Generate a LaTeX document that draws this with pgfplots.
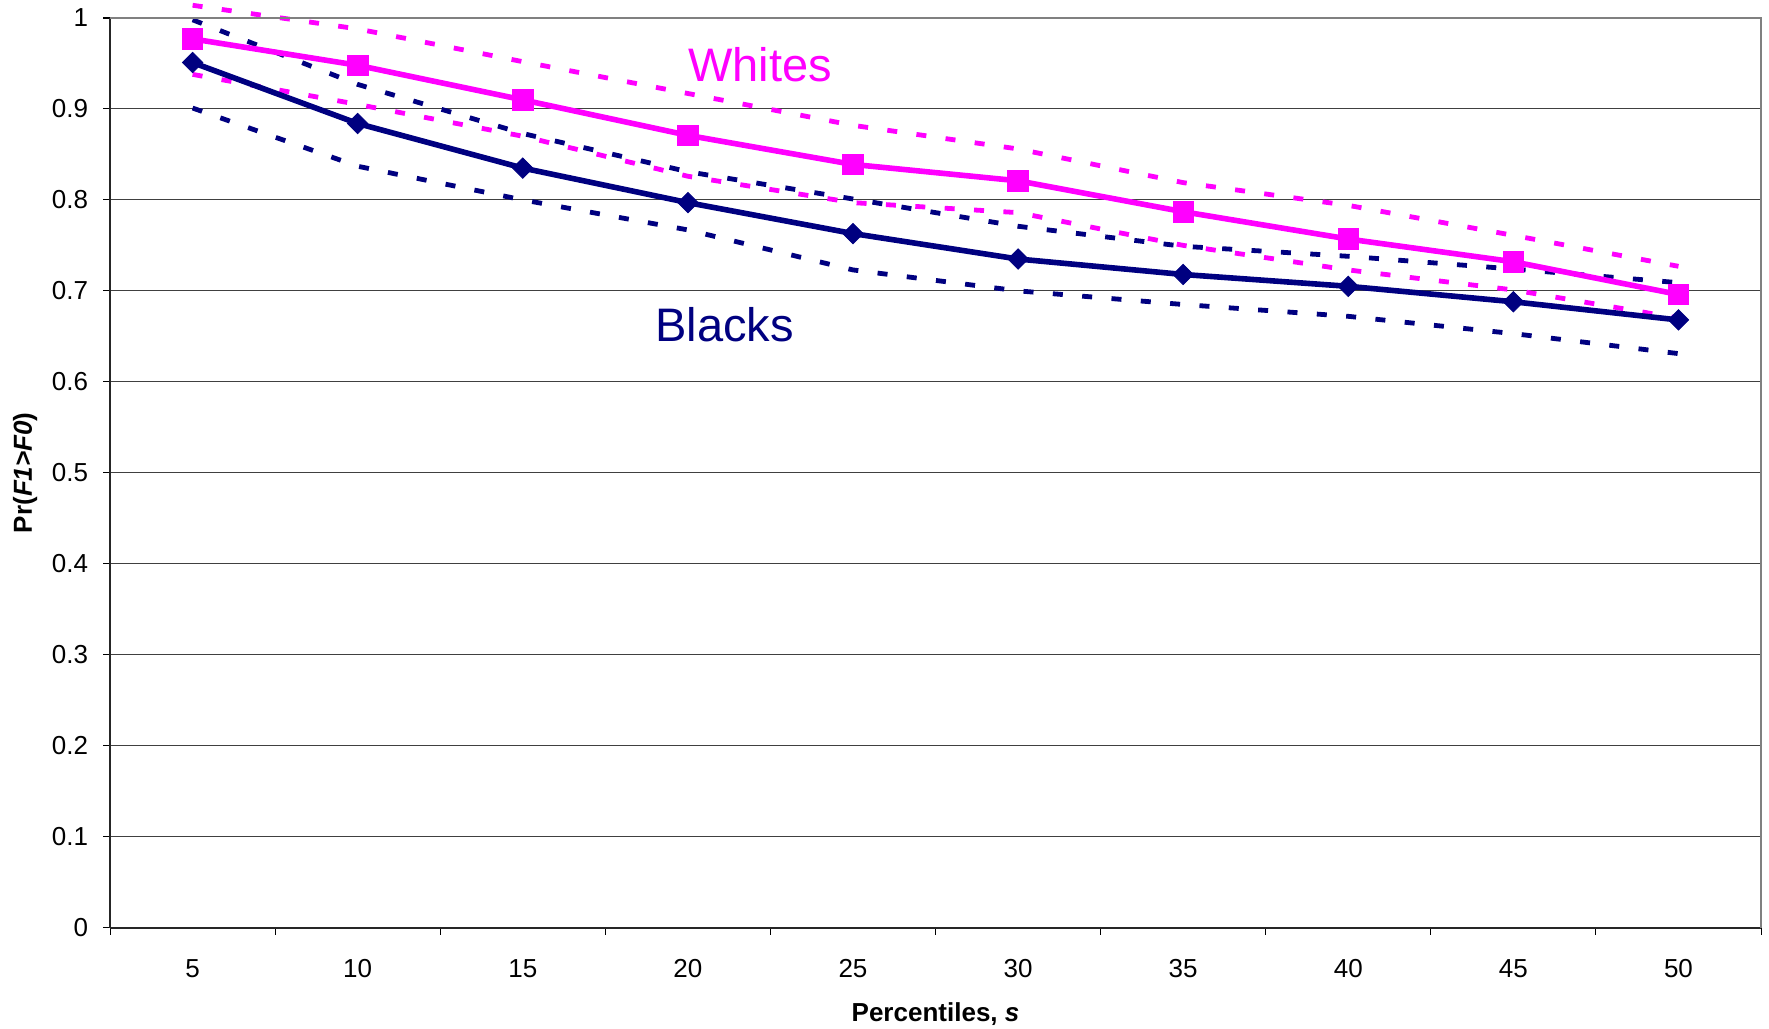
\documentclass[border=0pt]{standalone}
\usepackage{fontspec}
\setmainfont{Liberation Sans}
\usepackage{pgfplots}
\pgfplotsset{compat=1.18}
\definecolor{wpink}{RGB}{255,0,255}
\definecolor{bnavy}{RGB}{0,0,128}
\begin{document}
\begin{tikzpicture}
\begin{axis}[
  scale only axis, width=825pt, height=454.5pt,
  xmin=-0.5, xmax=9.5, ymin=0, ymax=1,
  clip=false,
  axis lines*=left,
  axis line style={black!85, line width=1pt},
  xtick={0,1,2,3,4,5,6,7,8,9},
  xticklabels={5,10,15,20,25,30,35,40,45,50},
  major x tick style={draw=none},
  minor xtick={-0.5,0.5,1.5,2.5,3.5,4.5,5.5,6.5,7.5,8.5,9.5},
  ytick={0,0.1,0.2,0.3,0.4,0.5,0.6,0.7,0.8,0.9,1},
  tick align=outside,
  major tick length=3.5pt, minor tick length=3.5pt,
  tick style={black, line width=0.5pt},
  ymajorgrids, grid style={black!75, line width=0.5pt},
  /pgf/number format/assume math mode=true,
  ticklabel style={font=\fontsize{13}{15}\selectfont},
  xticklabel style={yshift=-9pt},
  yticklabel style={xshift=-4pt},
  xlabel={\textbf{Percentiles, \textit{s}}},
  ylabel={\textbf{Pr(\textit{F1>F0})}},
  label style={font=\fontsize{13}{15}\selectfont, inner sep=0pt},
  xlabel style={at={(axis description cs:0.5,-0.0955)}, anchor=center},
  ylabel style={at={(axis description cs:-0.0515,0.5)}, anchor=center},
]
% dashed bounds
\addplot[bnavy, line width=2.4pt, dash pattern=on 5pt off 9.7pt] coordinates {
 (0,0.998) (1,0.927) (2,0.873) (3,0.831) (4,0.801) (5,0.771) (6,0.749) (7,0.738) (8,0.724) (9,0.709)};
\addplot[bnavy, line width=2.4pt, dash pattern=on 5pt off 9.7pt] coordinates {
 (0,0.901) (1,0.837) (2,0.800) (3,0.767) (4,0.723) (5,0.700) (6,0.685) (7,0.672) (8,0.653) (9,0.631)};
\addplot[wpink, line width=2.4pt, dash pattern=on 5pt off 9.7pt] coordinates {
 (0,1.014) (1,0.988) (2,0.952) (3,0.917) (4,0.882) (5,0.856) (6,0.819) (7,0.794) (8,0.761) (9,0.727)};
\addplot[wpink, line width=2.4pt, dash pattern=on 5pt off 9.7pt] coordinates {
 (0,0.938) (1,0.905) (2,0.870) (3,0.826) (4,0.797) (5,0.786) (6,0.750) (7,0.723) (8,0.701) (9,0.670)};
% point estimates
\addplot[wpink, line width=2.8pt, mark=square*, mark size=5.1pt, mark options={solid, line width=0.4pt}] coordinates {
 (0,0.977) (1,0.948) (2,0.910) (3,0.871) (4,0.839) (5,0.821) (6,0.787) (7,0.757) (8,0.732) (9,0.696)};
\addplot[bnavy, line width=2.8pt, mark=square*, mark size=3.6pt, mark options={solid, rotate=45, line width=0.4pt}] coordinates {
 (0,0.951) (1,0.884) (2,0.835) (3,0.797) (4,0.763) (5,0.735) (6,0.718) (7,0.705) (8,0.688) (9,0.668)};
\node[anchor=base west, text=wpink, font=\fontsize{23.5}{28}\selectfont, inner sep=0pt] at (axis cs:3,0.930) {Whites};
\node[anchor=base west, text=bnavy, font=\fontsize{23.5}{28}\selectfont, inner sep=0pt] at (axis cs:2.80,0.644) {Blacks};
\draw[black!50, line width=0.8pt] (rel axis cs:0,1) -- (rel axis cs:1,1) -- (rel axis cs:1,0);
\path (rel axis cs:0,0) ++(-55pt,-50.5pt) coordinate (bbA);
\path (rel axis cs:1,1) ++(4pt,9pt) coordinate (bbB);
\path (bbA) -- (bbB);
\end{axis}
\end{tikzpicture}
\end{document}
